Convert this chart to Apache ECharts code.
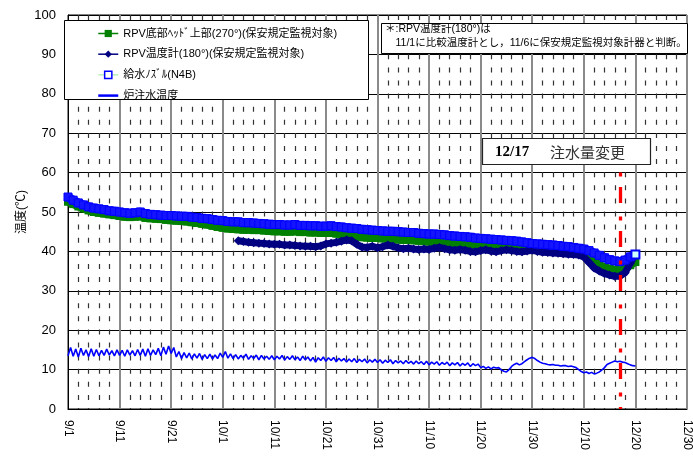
<!DOCTYPE html>
<html>
<head>
<meta charset="utf-8">
<script src="https://cdn.jsdelivr.net/npm/echarts@6/dist/echarts.min.js"></script>
<style>
  html, body { margin: 0; padding: 0; background: #fff; }
  #chart { width: 693px; height: 459px; }
</style>
</head>
<body>
<div id="chart"></div>
<script>
// x axis: days counted from 9/1, one tick label every 10 days
const xTickLabels = ['9/1', '9/11', '9/21', '10/1', '10/11', '10/21', '10/31',
                     '11/10', '11/20', '11/30', '12/10', '12/20', '12/30'];
const yTickLabels = ['0', '10', '20', '30', '40', '50', '60', '70', '80', '90', '100'];

const seriesNames = [
  'RPV底部ﾍｯﾄﾞ上部(270°)(保安規定監視対象)',
  'RPV温度計(180°)(保安規定監視対象)',
  '給水ﾉｽﾞﾙ(N4B)',
  '炉注水温度'
];

// RPV bottom head, daily from 9/1 (℃)
const bottomHeadStart = 0;
const bottomHeadTemp = [
  52.6, 52.0, 51.4, 50.9, 50.4, 50.0, 49.8, 49.6, 49.4, 49.2,
  49.0, 48.8, 48.7, 48.8, 48.9, 48.5, 48.4, 48.3, 48.2, 48.0,
  47.9, 47.8, 47.7, 47.6, 47.4, 47.2, 47.0, 46.8, 46.5, 46.2,
  46.0, 45.8, 45.7, 45.6, 45.5, 45.5, 45.4, 45.4, 45.3, 45.2,
  45.1, 45.1, 45.0, 45.0, 45.1, 44.9, 44.9, 44.8, 44.8, 44.7,
  44.7, 44.7, 44.5, 44.3, 44.1, 43.9, 43.8, 43.6, 43.5, 43.4,
  43.4, 43.3, 43.2, 43.1, 43.0, 42.9, 42.9, 42.8, 42.7, 42.6,
  42.5, 42.5, 42.4, 42.3, 42.2, 42.1, 42.0, 41.9, 41.8, 41.7,
  41.6, 41.5, 41.4, 41.3, 41.2, 41.1, 41.0, 40.9, 40.8, 40.7,
  40.6, 40.5, 40.4, 40.3, 40.2, 40.1, 40.0, 39.9, 39.8, 39.6,
  39.3, 38.5, 37.5, 36.6, 36.0, 35.6, 35.3, 35.2, 35.5, 36.5,
  37.3
];

// RPV thermometer (180°), daily from 10/4 (℃)
const rpvThermoStart = 33;
const rpvThermoTemp = [
  42.7, 42.5, 42.3, 42.2, 42.1, 42.0, 41.9,
  41.8, 41.8, 41.6, 41.6, 41.5, 41.4, 41.3, 41.3, 41.2, 41.4,
  41.9, 42.1, 42.3, 42.6, 42.9, 42.7, 41.8, 41.1, 41.0, 41.3,
  40.9, 41.2, 41.6, 41.3, 40.9, 40.7, 40.8, 40.6, 40.5, 40.6,
  40.5, 40.8, 41.0, 40.7, 40.4, 40.3, 40.5, 40.3, 40.0, 39.9,
  40.2, 40.4, 40.1, 39.9, 40.2, 40.4, 40.2, 40.0, 39.9, 40.1,
  40.3, 40.0, 39.8, 39.7, 39.6, 39.5, 39.4, 39.3, 39.2, 39.1,
  38.6, 37.2, 35.8, 35.0, 34.4, 34.0, 33.7, 33.7, 34.6, 37.0,
  39.3
];

// Feedwater nozzle N4B, daily from 9/1 (℃)
const nozzleStart = 0;
const nozzleTemp = [
  53.8, 53.0, 52.3, 51.8, 51.3, 51.0, 50.8, 50.6, 50.3, 50.2,
  50.0, 49.8, 49.7, 49.8, 50.0, 49.6, 49.4, 49.3, 49.2, 49.1,
  49.1, 49.0, 48.9, 48.9, 48.7, 48.6, 48.4, 48.3, 48.1, 47.9,
  47.8, 47.6, 47.5, 47.5, 47.3, 47.3, 47.2, 47.1, 47.0, 46.9,
  46.8, 46.8, 46.7, 46.7, 46.8, 46.6, 46.6, 46.5, 46.5, 46.4,
  46.4, 46.5, 46.3, 46.2, 46.0, 45.9, 45.8, 45.6, 45.5, 45.4,
  45.3, 45.2, 45.1, 45.1, 45.0, 44.9, 44.8, 44.8, 44.6, 44.5,
  44.4, 44.4, 44.3, 44.2, 44.0, 43.9, 43.8, 43.7, 43.6, 43.4,
  43.3, 43.2, 43.1, 43.0, 42.9, 42.8, 42.7, 42.6, 42.4, 42.2,
  42.0, 41.9, 41.8, 41.7, 41.6, 41.5, 41.3, 41.2, 41.0, 40.8,
  40.6, 40.2, 39.6, 39.0, 38.4, 37.9, 37.6, 37.4, 37.8, 38.6,
  39.2
];

// Injection water temperature, twice a day from 9/1 (℃)
const injectionStart = 0;
const injectionStep = 0.5;
const injectionTemp = [
  13.5, 15.6, 13.4, 15.2, 13.2, 15.4, 13.6, 15.0, 13.3, 15.3,
  13.4, 15.1, 13.5, 14.9, 13.6, 15.2, 13.7, 14.8, 13.5, 15.0,
  13.6, 14.9, 13.4, 15.0, 13.7, 14.8, 13.5, 15.1, 13.6, 15.2,
  13.4, 15.3, 13.6, 15.0, 13.8, 15.4, 13.5, 15.7, 13.9, 16.0,
  14.1, 15.6, 13.2, 14.6, 12.8, 14.3, 13.0, 14.2, 12.7, 14.0,
  12.9, 14.1, 12.6, 13.8, 12.8, 13.9, 12.7, 13.7, 12.8, 14.2,
  13.1, 14.6, 12.9, 14.0, 12.8, 13.8, 12.7, 13.6, 12.9, 13.9,
  12.6, 13.5, 12.8, 13.7, 12.5, 13.6, 12.7, 13.4, 12.6, 13.5,
  12.5, 13.4, 12.7, 13.6, 12.4, 13.3, 12.6, 13.5, 12.5, 13.2,
  12.3, 13.4, 12.5, 13.2, 12.2, 13.1, 11.9, 13.0, 12.3, 13.2,
  12.1, 13.0, 12.3, 13.1, 12.0, 12.9, 12.2, 12.8, 11.9, 12.7,
  12.0, 12.8, 11.8, 12.6, 12.0, 12.7, 11.7, 12.5, 11.9, 12.6,
  11.8, 12.5, 11.6, 12.4, 11.8, 12.5, 11.5, 12.3, 11.7, 12.2,
  11.5, 12.3, 11.6, 12.1, 11.4, 12.2, 11.5, 12.0, 11.3, 12.1,
  11.2, 11.9, 11.4, 12.0, 11.1, 11.8, 11.3, 11.9, 11.0, 11.7,
  11.2, 11.8, 10.9, 11.6, 11.1, 11.7, 10.8, 11.5, 11.0, 11.4,
  10.5, 10.8, 10.3, 10.7, 10.2, 10.6, 10.4, 10.5, 9.9, 9.6,
  9.4, 10.0, 10.8, 11.3, 11.6, 11.2, 11.5, 12.0, 12.5, 12.9,
  13.1, 12.8, 12.3, 11.9, 11.6, 11.5, 11.3, 11.2, 11.3, 11.1,
  11.1, 10.9, 11.0, 11.0, 10.8, 10.9, 10.7, 10.5, 10.0, 9.5,
  9.2, 9.4, 9.0, 9.3, 8.9, 9.1, 9.4, 9.9, 10.5, 11.3,
  11.6, 11.9, 12.2, 12.0, 12.1, 11.9, 11.8, 11.5, 11.2, 11.0,
  10.9
];

// Injection flow change
const flowChangeDay = 107;   // 12/17
const flowChangeLabel = '12/17';
const flowChangeText = '注水量変更';
const flowChangeTop = 60;

const noteLines = [
  '＊:RPV温度計(180°)は',
  '　11/1に比較温度計とし，11/6に保安規定監視対象計器と判断。'
];

function toPoints(start, step, values) {
  return values.map((v, i) => [start + i * step, v]);
}

const FONT = "'Liberation Sans', 'Noto Sans CJK JP', sans-serif";

const nozzlePoints = toPoints(nozzleStart, 1, nozzleTemp);
const lastNozzle = nozzlePoints.pop();
nozzlePoints.push({ value: lastNozzle, itemStyle: { color: '#ccffff', borderColor: '#0000ff', borderWidth: 2 } });

const chart = echarts.init(document.getElementById('chart'), null, { renderer: 'canvas' });

chart.setOption({
  animation: false,
  backgroundColor: '#fff',
  textStyle: { fontFamily: FONT },
  grid: {
    left: 68, right: 5, top: 15, bottom: 50,
    show: true, borderColor: '#000', borderWidth: 1, backgroundColor: '#fff'
  },
  xAxis: {
    type: 'value', min: 0, max: 120, interval: 10,
    axisLine: { show: true, lineStyle: { color: '#000', width: 1 } },
    axisTick: { show: false },
    axisLabel: {
      rotate: -90, margin: 11, color: '#000', fontSize: 12, fontFamily: FONT,
      formatter: v => xTickLabels[Math.round(v / 10)]
    },
    splitLine: { show: true, lineStyle: { color: '#8a8a8a', width: 2 } },
    minorTick: { show: false, splitNumber: 5 },
    minorSplitLine: { show: true, lineStyle: { color: '#333', width: 1.2, type: [5, 8.1] } }
  },
  yAxis: {
    type: 'value', min: 0, max: 100, interval: 10,
    name: '温度(℃)', nameLocation: 'middle', nameGap: 40, nameRotate: 90,
    nameMoveOverlap: false,
    nameTextStyle: { color: '#000', fontSize: 12, fontFamily: FONT },
    axisLine: { show: true, lineStyle: { color: '#000', width: 1 } },
    axisTick: { show: false },
    axisLabel: {
      margin: 12, color: '#000', fontSize: 13, fontFamily: FONT,
      formatter: v => yTickLabels[Math.round(v / 10)]
    },
    splitLine: { show: true, lineStyle: { color: '#000', width: 1 } }
  },
  legend: {
    orient: 'vertical', left: 97, top: 28, z: 20,
    itemWidth: 20, itemHeight: 9, itemGap: 9.7, padding: 0,
    textStyle: { color: '#000', fontSize: 11, fontFamily: FONT },
    data: [
      { name: seriesNames[0], itemStyle: { color: '#008000' }, lineStyle: { color: '#008000', width: 1.5 } },
      { name: seriesNames[1], itemStyle: { color: '#000080' }, lineStyle: { color: '#000080', width: 1.5 } },
      { name: seriesNames[2], itemStyle: { color: '#fff', borderColor: '#0000ff', borderWidth: 1.5 }, lineStyle: { color: '#99e699', width: 1 } },
      { name: seriesNames[3], itemStyle: { opacity: 0 }, lineStyle: { color: '#0000ff', width: 2.5 } }
    ]
  },
  series: [
    {
      name: seriesNames[0], type: 'line',
      data: toPoints(bottomHeadStart, 1, bottomHeadTemp),
      symbol: 'rect', symbolSize: 8, showAllSymbol: true,
      itemStyle: { color: '#008000' },
      lineStyle: { color: '#008000', width: 8 },
      z: 2
    },
    {
      name: seriesNames[1], type: 'line',
      data: toPoints(rpvThermoStart, 1, rpvThermoTemp),
      symbol: 'diamond', symbolSize: 9, showAllSymbol: true,
      itemStyle: { color: '#000080' },
      lineStyle: { color: '#000080', width: 7 },
      z: 3
    },
    {
      name: seriesNames[2], type: 'line',
      data: nozzlePoints,
      symbol: 'rect', symbolSize: 8, showAllSymbol: true,
      itemStyle: { color: '#1414ff', borderColor: '#0000ff', borderWidth: 1 },
      lineStyle: { color: '#1010ff', width: 9 },
      z: 4
    },
    {
      name: seriesNames[3], type: 'line',
      data: toPoints(injectionStart, injectionStep, injectionTemp),
      symbol: 'none',
      lineStyle: { color: '#0000ff', width: 1.6 },
      z: 5,
      markLine: {
        silent: true, symbol: 'none', label: { show: false },
        lineStyle: { color: '#ff0000', width: 3.3, type: [4, 10.5, 16, 13.5] },
        data: [[{ coord: [flowChangeDay, flowChangeTop] }, { coord: [flowChangeDay, 0] }]]
      }
    }
  ],
  graphic: [
    // legend frame
    { type: 'rect', z: 10, shape: { x: 64.5, y: 20.5, width: 304, height: 79 },
      style: { fill: '#fff', stroke: '#000', lineWidth: 1 } },
    // note frame
    { type: 'rect', z: 10, shape: { x: 381.5, y: 23.5, width: 306, height: 30 },
      style: { fill: '#fff', stroke: '#000', lineWidth: 1 } },
    { type: 'text', z: 11, x: 385, y: 29.5,
      style: { text: noteLines[0], fill: '#000', font: '10.5px ' + FONT, verticalAlign: 'middle' } },
    { type: 'text', z: 11, x: 385, y: 43.5,
      style: { text: noteLines[1], fill: '#000', font: '10.5px ' + FONT, verticalAlign: 'middle' } },
    // flow change frame
    { type: 'rect', z: 10, shape: { x: 482.5, y: 138.5, width: 168, height: 26 },
      style: { fill: '#fff', stroke: '#222', lineWidth: 1.2 } },
    { type: 'text', z: 11, x: 495, y: 152,
      style: { text: flowChangeLabel, fill: '#000', font: "bold 15px 'Liberation Serif', serif", verticalAlign: 'middle' } },
    { type: 'text', z: 11, x: 550, y: 152,
      style: { text: flowChangeText, fill: '#333', font: "15px 'Noto Sans CJK JP', sans-serif", verticalAlign: 'middle' } }
  ]
});
</script>
</body>
</html>
